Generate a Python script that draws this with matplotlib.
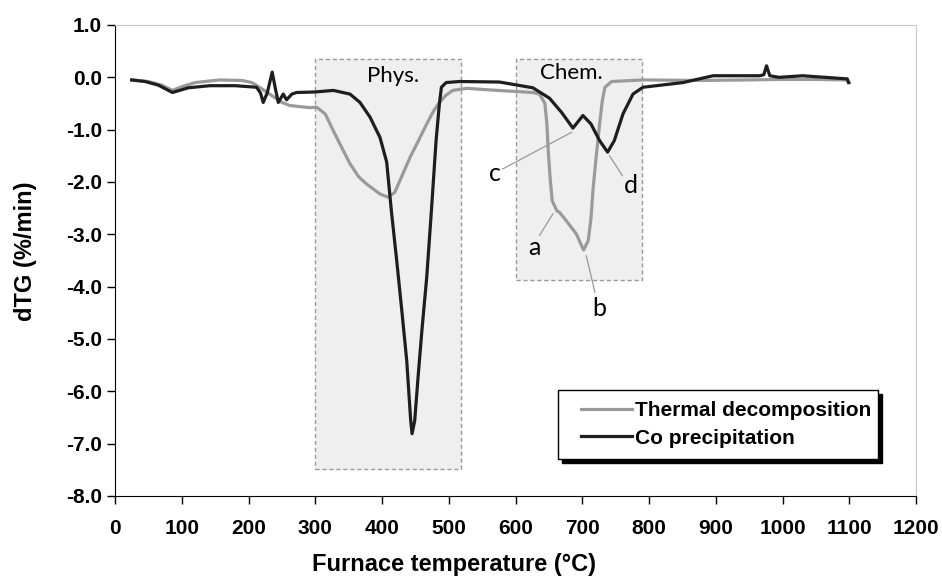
import matplotlib
matplotlib.use('Agg')
import matplotlib.pyplot as plt
from matplotlib.patches import Rectangle
import numpy as np

# thermal decomposition (grey curve)
temp_thermal = [25, 50, 70, 86, 100, 120, 157, 190, 205, 220, 235, 250, 262, 292, 302, 315,
                327, 340, 352, 365, 377, 397, 409, 419, 430, 442, 455, 467, 477, 486, 496,
                506, 527, 560, 600, 626, 636, 644, 647, 649, 652, 655, 662, 666, 676, 691,
                702, 709, 713, 716, 721, 726, 730, 734, 744, 791, 876, 950, 1000, 1050, 1095, 1100]
dtg_thermal = [-0.05, -0.08, -0.15, -0.25, -0.18, -0.10, -0.05, -0.06, -0.10, -0.22, -0.35, -0.48,
               -0.54, -0.58, -0.57, -0.70, -1.02, -1.35, -1.65, -1.90, -2.04, -2.23, -2.29, -2.20,
               -1.88, -1.53, -1.20, -0.89, -0.65, -0.48, -0.34, -0.25, -0.21, -0.24, -0.27, -0.29,
               -0.32, -0.50, -0.89, -1.40, -1.95, -2.36, -2.55, -2.58, -2.74, -2.99, -3.30, -3.12,
               -2.70, -2.16, -1.50, -0.89, -0.45, -0.19, -0.08, -0.05, -0.06, -0.05, -0.04, -0.04,
               -0.05, -0.10]

# co precipitation (black curve)
temp_coprec = [25, 45, 65, 86, 110, 142, 180, 212, 218, 222, 228, 235.5, 240, 244.6, 252, 257,
               265, 272, 300, 327, 352, 367, 382, 397, 407, 414, 422, 430, 437, 443, 445, 449,
               454, 460, 467, 474, 479, 481, 486, 489, 496, 516, 576, 626, 651, 669, 686, 701,
               713, 726, 738, 748, 761, 776, 791, 851, 896, 966, 972, 976, 981, 995, 1030, 1097, 1099]
dtg_coprec = [-0.05, -0.08, -0.15, -0.29, -0.20, -0.16, -0.16, -0.19, -0.30, -0.48, -0.30, 0.10,
              -0.20, -0.48, -0.32, -0.43, -0.32, -0.29, -0.28, -0.25, -0.32, -0.48, -0.76, -1.15,
              -1.62, -2.55, -3.50, -4.50, -5.41, -6.56, -6.81, -6.56, -5.73, -4.80, -3.82, -2.55,
              -1.59, -1.21, -0.50, -0.19, -0.10, -0.08, -0.09, -0.20, -0.40, -0.67, -0.97, -0.73,
              -0.89, -1.21, -1.43, -1.21, -0.70, -0.32, -0.19, -0.10, 0.03, 0.03, 0.05, 0.22,
              0.03, 0.00, 0.03, -0.03, -0.10]

series_names = ['Thermal decomposition', 'Co precipitation']

# shaded regions: name, x range, y range
region_names = ['Phys.', 'Chem.']
region_x = [(300, 518), (600, 790)]
region_y = [(-7.48, 0.35), (-3.87, 0.35)]
region_label_pos = [(416, 0.03), (684, 0.08)]

# peak labels a-d with leader lines
peak_letters = ['a', 'b', 'c', 'd']
peak_text_pos = [(629, -3.25), (726, -4.42), (569, -1.83), (773, -2.07)]
peak_line_from = [(636, -3.02), (719, -4.11), (581, -1.75), (741, -1.50)]
peak_line_to = [(656, -2.61), (706, -3.41), (684, -1.05), (760, -1.88)]

plt.rcParams['font.family'] = ['Liberation Sans', 'DejaVu Sans']

fig = plt.figure(figsize=(9.42, 5.81), dpi=100)
ax = fig.add_axes([0.1221, 0.1463, 0.8503, 0.8107])

for (x0, x1), (y0, y1) in zip(region_x, region_y):
    ax.add_patch(Rectangle((x0, y0), x1 - x0, y1 - y0, facecolor='#efefef',
                           edgecolor='#999999', linestyle=(0, (3, 2)), linewidth=1.0, zorder=1))
for name, (tx, ty) in zip(region_names, region_label_pos):
    ax.text(tx, ty, name, fontsize=16, family=['Lato', 'DejaVu Sans'], ha='center', va='center', zorder=2)

ax.plot(temp_thermal, dtg_thermal, color='#9a9a9a', lw=2.3, label=series_names[0], zorder=3)
ax.plot(temp_coprec, dtg_coprec, color='#1e1e1e', lw=2.3, label=series_names[1], zorder=4)

for letter, tp, p0, p1 in zip(peak_letters, peak_text_pos, peak_line_from, peak_line_to):
    ax.plot([p0[0], p1[0]], [p0[1], p1[1]], color='#999999', lw=0.9, zorder=5)
    ax.text(tp[0], tp[1], letter, fontsize=18, family=['Lato', 'DejaVu Sans'], ha='center', va='center', zorder=6)

ax.set_xlim(0, 1200)
ax.set_ylim(-8, 1)
ax.set_xticks(np.arange(0, 1201, 100))
ax.set_yticks(np.arange(-8, 1.01, 1))
ax.set_yticklabels(['%.1f' % v for v in np.arange(-8, 1.01, 1)])
ax.tick_params(direction='out', length=5.8, width=1, labelsize=15)
ax.tick_params(axis='x', pad=11)
ax.tick_params(axis='y', pad=3.5)
for lab in ax.get_xticklabels() + ax.get_yticklabels():
    lab.set_fontweight('bold')
ax.spines['top'].set_color('#c8c8c8')
ax.spines['right'].set_color('#c8c8c8')

ax.set_xlabel('Furnace temperature (°C)', fontsize=17, fontweight='bold')
ax.set_ylabel('dTG (%/min)', fontsize=17, fontweight='bold')
ax.xaxis.set_label_coords(0.423, -0.122)
ax.yaxis.set_label_coords(-0.097, 0.52)

# legend with a hard black drop shadow, like the original
lx0, lx1, ly0, ly1 = 0.5527, 0.953, 0.0775, 0.226
ax.add_patch(Rectangle((lx0 + 0.005, ly0 - 0.0085), lx1 - lx0, ly1 - ly0, transform=ax.transAxes,
                       facecolor='black', edgecolor='black', zorder=7))
ax.add_patch(Rectangle((lx0, ly0), lx1 - lx0, ly1 - ly0, transform=ax.transAxes,
                       facecolor='white', edgecolor='black', lw=1, zorder=8))
leg = ax.legend(loc='center left', bbox_to_anchor=(0.5847 - 0.003, (ly0 + ly1) / 2), frameon=False,
                prop={'size': 15, 'weight': 'bold'}, handlelength=2.45, handletextpad=0.15,
                labelspacing=0.4, borderpad=0, borderaxespad=0)
leg.set_zorder(9)

fig.savefig('out.png', dpi=100)
